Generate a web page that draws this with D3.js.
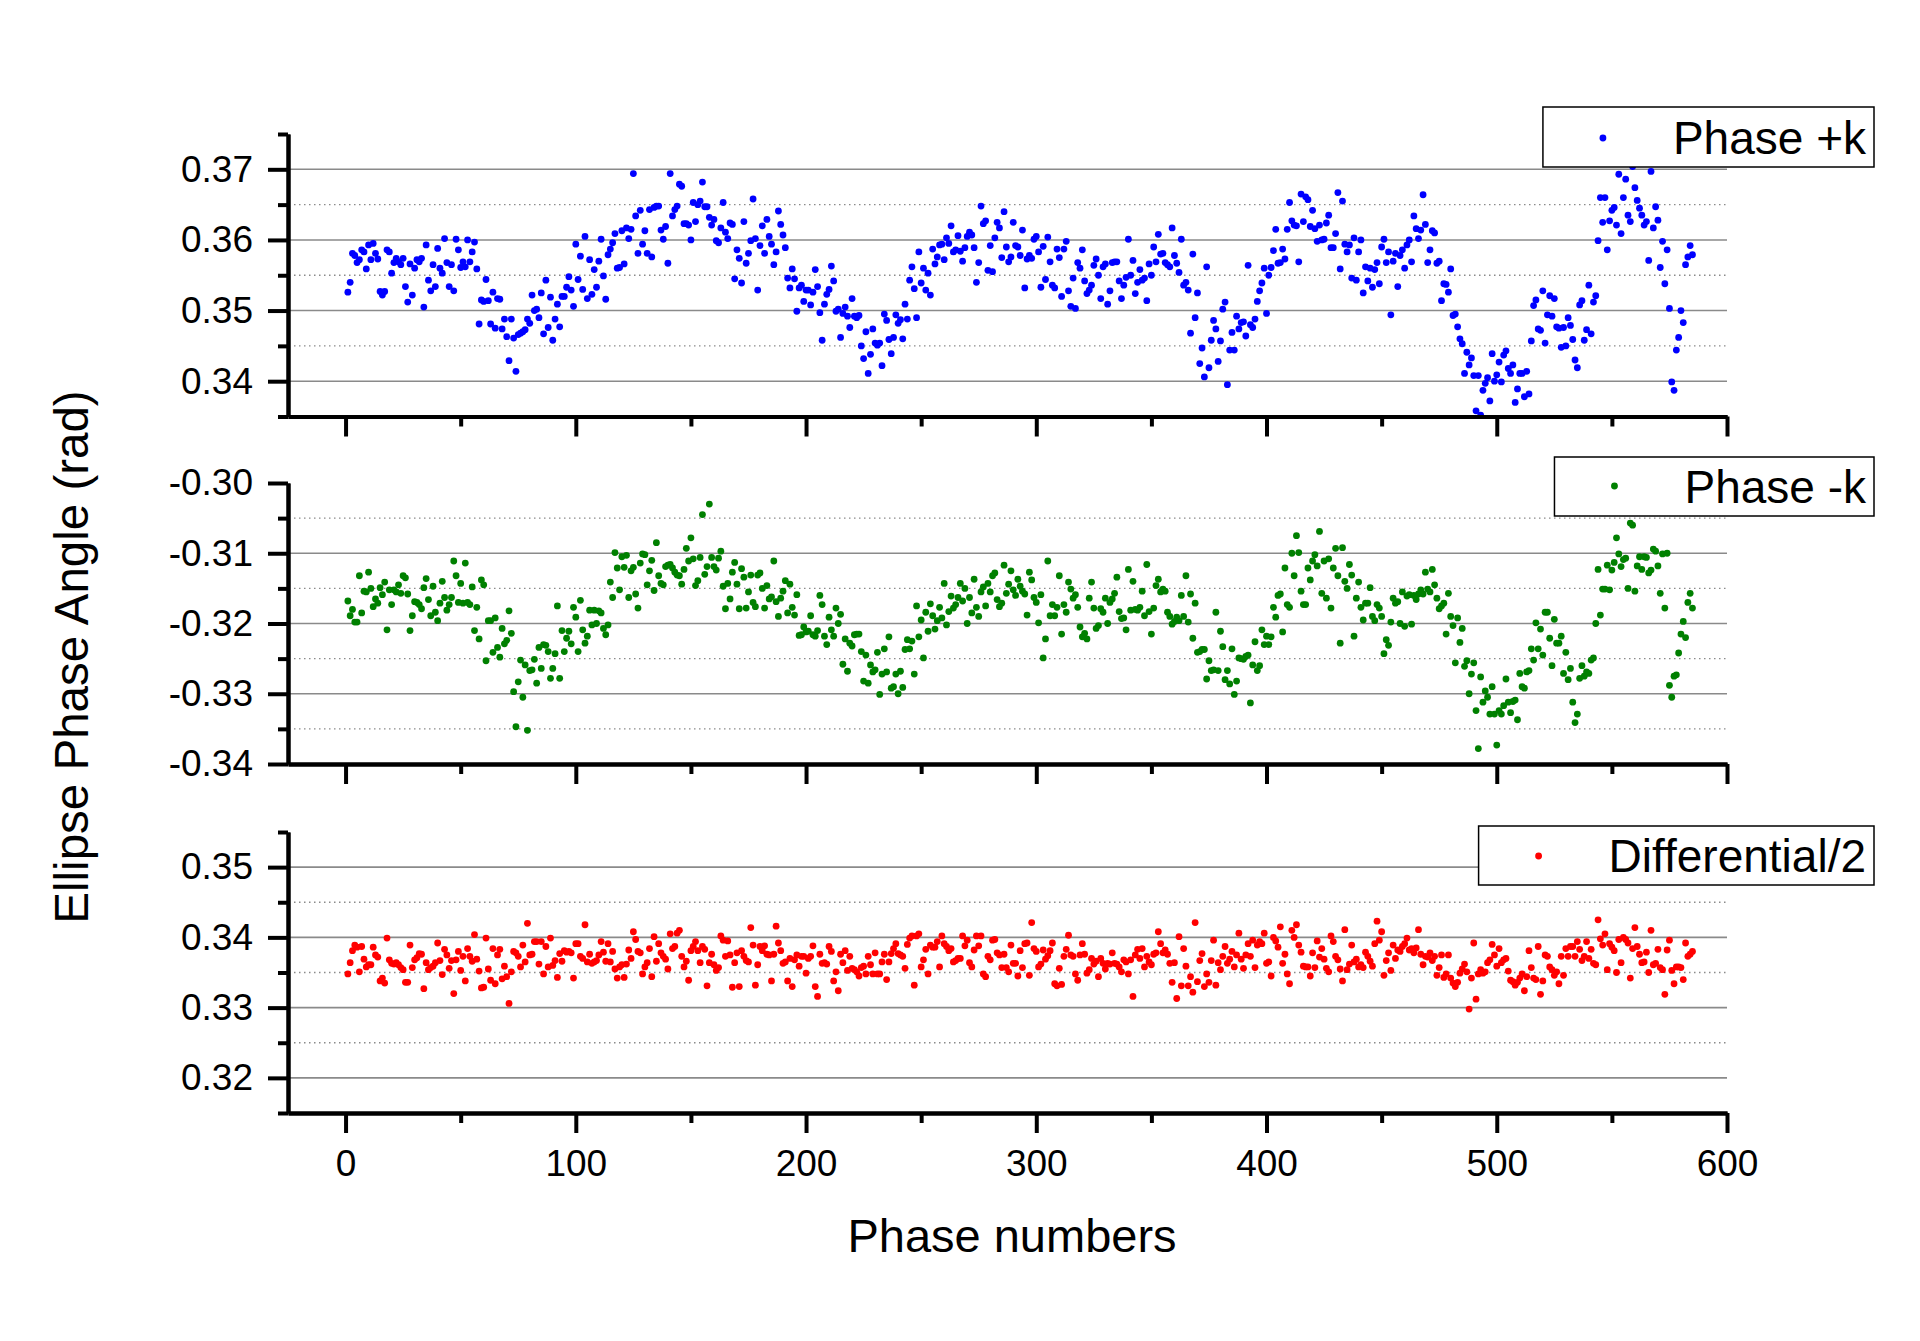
<!DOCTYPE html>
<html>
<head>
<meta charset="utf-8">
<script src="https://cdn.jsdelivr.net/npm/d3@7"></script>
<style>
  body { margin: 0; background: #fff; }
  svg text { font-family: "Liberation Sans", Arial, sans-serif; fill: #000; }
</style>
</head>
<body>
<div id="canvas"></div>
<script>
// phase numbers start at 1, one value per phase, values in mrad
const firstPhase = 1;

const phasePlus = [
  352.6,354.0,358.1,357.8,356.8,357.2,358.6,358.3,355.9,359.3,357.2,359.5,358.1,357.3,352.7,352.2,352.7,358.6,358.3,355.3,
  356.8,357.4,356.9,356.5,357.4,353.4,351.2,356.6,352.2,356.0,357.2,356.9,357.4,350.5,359.3,354.3,352.8,356.5,353.4,358.8,
  356.0,355.3,360.2,356.8,353.4,356.5,352.8,360.1,358.6,356.1,356.9,356.2,360.0,356.9,358.3,359.7,355.9,348.1,351.5,351.3,
  354.4,351.4,348.1,352.6,347.5,351.7,351.6,347.4,348.8,346.3,342.9,348.8,346.1,341.4,346.6,346.8,347.0,347.3,348.8,348.2,
  352.2,350.0,350.2,349.0,352.5,346.7,354.3,347.6,351.9,345.8,348.8,350.9,347.7,352.0,352.0,353.3,354.8,352.9,350.6,359.4,
  354.4,357.7,353.0,360.5,351.7,357.2,352.3,355.8,353.3,357.0,360.1,354.9,351.6,357.9,358.7,359.6,360.9,356.0,356.1,361.3,
  356.6,361.7,360.2,361.5,369.4,363.4,358.1,364.2,359.4,361.3,358.1,364.3,357.6,364.6,364.8,364.8,361.4,360.1,361.9,356.7,
  369.4,363.4,364.3,364.8,367.9,367.6,362.3,362.3,362.1,360.0,365.3,362.6,365.0,365.5,368.2,364.7,364.7,363.2,362.1,362.9,
  359.9,359.6,361.7,365.3,361.1,360.2,362.4,362.2,354.5,358.6,357.4,353.9,362.6,356.7,358.1,359.9,365.8,360.2,352.9,359.2,
  362.0,358.1,362.9,360.5,359.4,356.5,358.3,364.1,362.2,360.7,358.9,354.6,353.2,355.9,354.5,349.9,353.2,353.6,351.3,352.9,
  352.9,350.8,352.6,355.8,353.4,349.7,345.8,350.9,352.3,353.0,356.3,354.2,349.9,350.2,346.2,349.6,350.5,349.2,347.6,351.7,
  349.2,349.0,349.3,345.0,343.2,347.0,341.1,343.8,347.4,345.4,345.1,345.4,342.2,349.5,348.6,345.9,343.9,346.2,349.4,348.2,
  348.7,346.0,350.9,348.8,354.3,356.2,353.1,349.0,358.3,353.9,356.0,352.9,355.3,352.2,358.7,356.6,357.6,359.3,359.4,357.2,
  360.3,359.5,362.0,358.3,358.6,360.6,358.4,357.0,358.9,360.5,361.1,360.7,358.9,354.0,356.8,364.8,362.3,362.7,355.7,359.2,
  355.5,360.3,362.5,361.7,357.5,364.0,359.0,356.9,357.6,362.5,359.2,359.0,357.8,361.4,353.2,357.3,357.8,357.4,360.1,360.5,
  358.3,353.3,359.1,354.4,360.4,356.9,353.6,353.2,358.7,357.5,352.0,358.7,359.8,352.8,350.6,354.6,350.3,356.8,356.0,358.6,
  354.2,352.4,352.9,353.6,356.4,357.3,355.0,351.7,356.2,356.6,350.9,352.8,356.8,356.9,356.9,354.2,351.7,353.6,354.7,360.1,
  355.0,357.1,352.4,354.0,355.8,354.3,354.6,351.4,356.6,355.0,359.0,356.9,360.8,358.0,358.1,356.8,356.5,356.2,361.7,357.8,
  356.7,355.4,360.1,353.6,354.0,352.9,346.8,358.0,349.0,352.5,342.5,344.7,340.6,356.2,341.9,345.8,348.6,347.4,342.8,345.7,
  350.2,351.2,339.5,344.4,346.9,344.4,349.2,347.4,348.3,348.4,346.4,356.4,348.0,347.6,348.8,351.3,352.8,353.9,356.0,349.6,
  355.0,356.1,358.5,361.5,356.7,356.8,358.7,357.3,361.5,365.3,362.7,362.1,362.0,356.9,366.5,362.6,366.1,365.7,361.9,364.2,
  361.6,359.8,362.1,360.0,360.1,362.4,363.5,358.9,358.9,360.9,366.7,355.9,365.5,359.4,358.3,359.3,354.6,360.3,354.3,358.3,
  360.0,352.5,356.2,354.2,356.0,353.3,355.8,356.8,353.8,359.0,360.1,356.8,358.3,349.4,357.0,358.1,353.4,357.8,358.6,356.0,
  359.3,360.0,356.9,363.4,361.6,360.2,361.4,366.4,362.2,356.8,358.6,361.3,361.0,356.7,357.0,351.4,353.8,353.7,352.6,355.9,
  349.3,349.5,347.7,346.0,345.3,341.1,344.1,342.3,343.3,340.8,335.8,340.8,335.2,338.7,339.7,340.5,337.2,343.9,340.0,340.9,
  342.7,339.9,343.7,344.3,341.8,341.1,342.3,337.0,338.9,341.1,341.1,337.8,341.4,338.2,345.7,350.7,351.5,347.4,347.2,352.8,
  345.4,349.4,352.1,349.2,351.7,347.7,347.5,344.8,347.6,345.0,349.0,347.9,345.9,343.0,341.9,350.8,351.4,345.8,347.3,353.6,
  346.7,351.2,352.1,359.9,366.0,362.5,366.0,358.6,362.7,364.2,364.6,362.1,369.3,360.9,366.0,368.6,363.5,362.6,370.4,367.4,
  365.6,364.5,363.5,362.1,362.6,357.1,369.7,361.7,364.7,362.8,356.1,359.8,353.8,358.6,350.3,339.9,338.7,344.4,346.2,350.0,
  348.3,356.5,357.6,359.2,357.9
];

const phaseMinus = [
  -316.8,-318.9,-318.0,-319.8,-319.8,-313.2,-318.5,-315.4,-315.5,-312.7,-315.0,-317.6,-316.5,-317.1,-314.9,-315.9,-314.1,-320.9,-315.2,-317.3,
  -315.2,-315.5,-314.5,-315.7,-313.2,-313.5,-315.8,-321.0,-318.9,-316.9,-317.0,-317.3,-317.9,-314.9,-313.6,-316.6,-318.9,-314.7,-318.4,-319.6,
  -317.1,-314.0,-316.3,-318.1,-317.3,-316.3,-311.1,-313.2,-317.0,-314.3,-317.1,-311.4,-317.0,-317.3,-314.8,-321.0,-317.7,-322.2,-313.8,-314.5,
  -325.3,-319.6,-319.6,-324.1,-319.2,-323.4,-324.8,-320.7,-322.9,-322.4,-318.2,-321.4,-329.7,-334.7,-328.3,-325.2,-330.5,-325.9,-335.2,-326.7,
  -326.6,-325.1,-328.5,-323.4,-326.4,-323.0,-323.1,-324.0,-327.8,-326.4,-324.3,-317.5,-327.8,-321.0,-324.0,-322.1,-321.1,-322.9,-317.7,-319.1,
  -324.0,-316.7,-320.9,-322.8,-321.8,-318.1,-320.2,-318.1,-320.0,-318.2,-318.5,-320.7,-321.6,-320.2,-314.1,-316.3,-309.9,-312.1,-315.2,-310.5,
  -312.0,-310.3,-316.3,-312.5,-312.0,-315.8,-317.8,-311.4,-310.1,-310.2,-314.5,-312.5,-311.0,-315.3,-308.5,-313.2,-314.3,-314.5,-311.9,-311.7,
  -311.6,-312.1,-312.7,-313.1,-313.2,-314.4,-312.3,-309.3,-311.1,-307.8,-310.8,-314.6,-313.9,-310.6,-304.5,-313.0,-311.9,-303.0,-310.6,-311.9,
  -312.4,-310.7,-309.7,-314.7,-317.9,-314.3,-316.5,-312.7,-311.3,-314.4,-317.9,-312.2,-313.4,-317.8,-315.5,-313.1,-317.0,-317.6,-313.1,-312.8,
  -315.0,-317.8,-314.6,-316.5,-316.2,-311.1,-316.9,-319.0,-316.4,-315.4,-313.9,-318.5,-314.4,-317.7,-318.8,-315.9,-321.7,-321.6,-320.5,-321.2,
  -321.1,-318.9,-321.6,-321.8,-321.0,-316.0,-317.3,-321.8,-323.0,-319.1,-320.9,-321.8,-317.8,-320.0,-318.7,-325.8,-322.2,-326.8,-322.8,-323.2,
  -321.6,-321.5,-321.5,-324.0,-328.2,-324.5,-328.5,-325.9,-326.9,-326.6,-324.1,-330.1,-327.2,-323.6,-326.9,-321.9,-329.2,-329.0,-327.2,-330.0,
  -326.8,-329.1,-323.7,-322.3,-323.6,-322.5,-327.2,-317.5,-321.9,-319.5,-324.9,-318.4,-321.1,-317.2,-318.9,-320.8,-319.6,-317.7,-319.2,-314.3,
  -320.2,-318.3,-316.1,-317.8,-317.3,-316.3,-314.3,-316.8,-315.0,-320.0,-316.3,-318.5,-313.7,-317.7,-319.0,-315.5,-314.8,-317.5,-314.3,-315.5,
  -313.2,-312.8,-316.6,-317.6,-317.1,-311.7,-315.7,-314.4,-312.5,-315.2,-316.0,-313.7,-314.7,-315.4,-315.8,-318.8,-312.7,-313.8,-316.3,-317.0,
  -319.9,-315.9,-324.9,-322.2,-311.1,-318.9,-317.3,-318.9,-317.7,-313.2,-321.5,-317.3,-318.4,-314.1,-315.1,-316.4,-315.9,-317.7,-320.5,-321.9,
  -321.4,-322.2,-316.4,-314.1,-317.8,-320.7,-320.3,-317.9,-318.4,-316.4,-320.0,-317.0,-316.5,-315.7,-313.4,-318.3,-319.3,-319.2,-320.9,-312.3,
  -318.1,-314.0,-318.0,-318.1,-317.7,-315.4,-318.9,-311.6,-318.3,-321.5,-317.8,-314.6,-313.7,-315.5,-315.1,-315.4,-318.4,-319.0,-320.1,-319.7,
  -319.1,-319.6,-316.0,-319.0,-313.2,-319.8,-315.8,-322.1,-317.1,-324.1,-324.0,-323.7,-323.7,-327.9,-325.3,-326.7,-326.6,-318.4,-326.7,-321.1,
  -323.3,-328.0,-326.7,-328.6,-323.6,-330.1,-328.2,-324.9,-325.0,-325.1,-324.7,-324.5,-331.3,-325.9,-322.6,-326.7,-326.0,-320.9,-323.0,-321.8,
  -323.0,-321.9,-317.7,-319.1,-316.0,-315.8,-321.2,-312.1,-317.3,-317.7,-310.0,-313.2,-307.5,-309.9,-315.4,-317.3,-317.3,-312.1,-313.8,-311.1,
  -310.2,-311.8,-306.9,-315.7,-311.1,-316.4,-310.8,-317.8,-312.1,-309.3,-313.2,-322.8,-309.2,-314.0,-315.0,-311.6,-313.1,-321.8,-316.4,-314.1,
  -317.7,-319.5,-317.1,-317.1,-314.9,-319.0,-319.6,-317.3,-317.8,-319.0,-324.3,-322.3,-323.1,-319.8,-316.4,-317.1,-316.9,-320.0,-315.5,-320.4,
  -316.1,-315.9,-320.1,-316.0,-316.6,-315.8,-315.2,-315.8,-312.7,-315.1,-315.5,-312.3,-314.5,-316.4,-317.9,-317.5,-317.1,-321.5,-315.7,-319.0,
  -320.3,-325.6,-319.2,-322.7,-320.7,-326.1,-325.3,-330.0,-327.2,-325.6,-332.4,-337.8,-327.6,-331.2,-329.6,-330.5,-332.9,-329.0,-332.9,-337.3,
  -332.4,-332.9,-331.7,-327.9,-331.2,-332.7,-331.1,-330.9,-333.7,-327.1,-329.0,-329.2,-326.9,-326.7,-323.6,-325.2,-319.9,-323.6,-320.8,-324.5,
  -318.4,-318.4,-322.1,-326.0,-319.4,-322.8,-322.8,-321.8,-327.1,-324.1,-328.0,-326.4,-331.2,-334.1,-332.9,-327.8,-326.0,-327.5,-326.9,-327.1,
  -325.2,-324.9,-320.0,-312.3,-318.8,-315.1,-315.1,-311.7,-315.2,-312.4,-311.3,-307.8,-310.1,-311.9,-310.9,-310.7,-315.0,-305.7,-306.0,-315.4,
  -311.8,-310.5,-312.3,-310.5,-310.6,-312.8,-312.4,-309.4,-309.7,-311.8,-315.7,-310.1,-317.8,-310.0,-328.8,-330.5,-327.5,-327.3,-324.2,-321.5,
  -319.7,-322.0,-317.0,-315.7,-317.8
];

const differentialHalf = [
  334.8,336.4,338.1,338.9,338.6,335.1,338.7,336.9,335.8,336.1,336.1,338.6,337.5,337.2,333.8,334.2,333.5,339.9,336.8,336.3,
  336.2,336.4,336.1,335.7,335.4,333.6,333.6,338.9,335.7,336.8,337.1,337.7,337.6,332.7,336.4,335.4,335.7,335.9,336.4,339.2,
  336.7,334.7,338.3,337.5,335.6,336.7,332.0,336.8,338.0,335.3,337.3,333.8,338.4,337.3,336.6,340.4,336.9,335.2,332.8,332.9,
  339.9,335.5,333.9,338.4,333.4,337.5,338.3,334.1,335.9,334.4,330.6,335.1,338.0,337.8,337.3,335.8,338.9,336.5,342.0,337.5,
  337.6,339.4,339.4,336.2,339.4,334.8,338.7,335.8,339.9,336.0,336.7,334.3,337.7,336.6,338.1,337.9,338.0,337.8,334.2,339.1,
  339.1,337.3,337.0,341.8,336.5,337.6,336.3,336.5,336.7,337.5,339.4,337.9,336.6,339.1,336.5,338.0,335.5,334.2,335.8,336.1,
  334.3,336.2,338.2,337.0,340.8,339.7,338.0,337.8,334.8,335.8,336.4,338.4,334.4,340.1,336.6,339.1,337.8,337.3,336.9,335.5,
  340.5,338.4,338.7,340.6,341.0,337.3,335.8,336.6,333.9,338.1,338.7,339.4,338.1,336.4,338.7,338.3,333.1,336.4,337.6,336.1,
  335.3,335.7,340.2,339.6,337.3,339.5,337.5,332.9,336.4,337.8,333.0,338.1,337.3,336.7,336.5,341.4,338.9,333.2,336.1,338.7,
  338.1,338.8,337.6,337.5,333.8,337.6,341.6,339.2,338.1,336.3,336.5,333.8,337.0,333.0,336.8,337.5,335.9,337.3,337.3,334.9,
  337.0,337.3,338.8,333.0,331.6,337.6,336.3,336.4,336.2,338.7,338.0,333.8,335.1,332.4,337.6,336.4,338.1,335.3,337.3,335.6,
  335.4,335.1,334.5,335.7,335.9,334.8,337.3,336.1,334.8,337.8,334.8,334.8,336.5,337.6,334.0,336.5,337.7,338.4,339.1,337.7,
  337.5,337.3,335.6,339.0,339.9,340.2,333.2,340.2,340.5,335.8,336.8,338.3,334.8,338.9,338.6,338.6,339.4,335.8,340.2,339.1,
  338.7,338.1,338.4,336.5,336.7,337.0,337.0,340.2,338.8,339.6,336.4,335.8,338.2,340.2,338.8,340.2,334.8,334.4,337.3,336.8,
  339.6,339.7,337.8,337.5,335.7,
  337.6,335.7,335.1,338.9,336.3,336.3,334.5,338.1,335.7,339.1,339.2,334.6,342.1,338.4,338.0,335.8,336.2,338.2,336.9,337.4,
  338.1,339.2,333.4,333.1,335.6,333.3,337.3,338.3,340.3,337.5,337.3,334.8,333.9,337.5,339.1,337.6,334.9,335.4,337.0,336.2,
  336.6,334.4,337.0,336.3,335.5,336.3,336.2,337.8,336.3,336.2,335.8,335.1,336.8,336.5,334.8,336.8,331.6,337.5,338.3,337.0,
  338.4,335.8,337.3,336.5,336.1,337.6,337.8,340.8,339.1,337.8,338.2,337.6,336.3,333.6,336.4,331.3,340.1,333.1,338.4,335.9,
  333.1,334.4,332.2,342.1,333.7,336.7,337.7,333.0,334.8,333.6,336.7,339.6,333.2,336.4,335.4,337.3,338.7,336.3,336.9,338.0,
  335.8,337.5,340.6,336.9,335.6,337.5,339.1,337.3,339.6,335.7,338.9,339.4,339.1,340.6,336.3,336.5,334.5,340.0,339.5,338.6,
  341.5,336.3,337.6,334.8,333.4,341.0,340.0,341.8,338.9,337.9,335.9,335.8,335.8,334.5,337.8,335.7,339.5,337.2,338.4,336.9,
  335.6,335.1,340.2,339.4,337.3,336.8,335.5,333.8,341.1,335.4,336.2,338.9,336.5,336.9,335.8,336.1,335.7,337.9,337.3,336.6,
  335.9,339.1,342.3,339.6,340.8,334.6,336.7,337.8,335.3,338.9,337.0,338.2,338.0,338.7,339.1,339.9,338.2,338.4,337.8,338.5,
  341.1,337.6,336.1,337.3,337.2,337.8,336.7,337.3,334.6,335.7,337.5,334.3,334.8,337.5,334.2,333.5,333.0,333.6,334.9,335.5,
  336.2,335.1,329.8,334.2,339.2,331.2,334.8,335.4,334.9,335.1,336.4,336.8,339.0,337.5,335.9,338.4,336.4,336.8,337.0,335.2,
  333.9,333.7,333.2,333.6,334.2,334.8,332.4,334.4,338.1,335.7,334.2,334.0,338.7,331.9,333.8,337.5,337.3,335.8,335.4,334.6,
  335.1,333.4,337.3,334.6,338.4,337.3,338.7,338.7,337.3,339.4,338.3,336.7,337.3,339.4,337.0,338.3,336.3,336.1,342.5,339.8,
  338.9,340.5,335.4,339.1,338.6,338.1,335.0,339.7,336.4,340.0,339.7,339.2,334.2,338.4,341.4,338.7,337.6,336.4,336.5,337.9,
  335.0,341.0,336.1,336.3,338.3,335.7,335.4,331.9,338.2,339.6,335.3,333.4,335.8,335.8,335.7,334.0,339.2,337.3,337.6,338.0
];

const xTicks = [0, 100, 200, 300, 400, 500, 600];
const xMinorTicks = [50, 150, 250, 350, 450, 550];
const plusTicks = [0.34, 0.35, 0.36, 0.37];
const plusMinor = [0.335, 0.345, 0.355, 0.365, 0.375];
const minusTicks = [-0.34, -0.33, -0.32, -0.31, -0.30];
const minusMinor = [-0.335, -0.325, -0.315, -0.305];
const diffTicks = [0.32, 0.33, 0.34, 0.35];
const diffMinor = [0.315, 0.325, 0.335, 0.345, 0.355];

const width = 1920;
const height = 1341;
const left = 288, right = 1727;

const svg = d3.select("#canvas").append("svg")
  .attr("width", width)
  .attr("height", height);
svg.append("rect").attr("width", width).attr("height", height).attr("fill", "#fff");

const x = d3.scaleLinear().domain([-25, 600]).range([left, right]);

const panels = [
  { values: phasePlus, color: "#0000ff", domain: [0.335, 0.375], ticks: plusTicks, minor: plusMinor,
    top: 134, bottom: 416.5, label: "Phase +k", box: [107, 167], base: 154, my: 138 },
  { values: phaseMinus, color: "#008000", domain: [-0.34, -0.30], ticks: minusTicks, minor: minusMinor,
    top: 483, bottom: 764, label: "Phase -k", box: [457, 516], base: 503, my: 486 },
  { values: differentialHalf, color: "#ff0000", domain: [0.315, 0.355], ticks: diffTicks, minor: diffMinor,
    top: 832, bottom: 1113, label: "Differential/2", box: [826, 885], base: 872, my: 856 }
];

function styleAxis(sel, labels) {
  sel.select(".domain").attr("stroke", "#000").attr("stroke-width", 4);
  sel.selectAll(".tick line").attr("stroke", "#000").attr("stroke-width", 4);
  if (labels) sel.selectAll(".tick text").style("font-size", "37px");
  else sel.selectAll(".tick text").remove();
}

panels.forEach((p, k) => {
  const y = d3.scaleLinear().domain(p.domain).range([p.bottom, p.top]);
  const g = svg.append("g");
  const inside = v => v > p.domain[0] + 1e-9 && v < p.domain[1] - 1e-9;

  // grid
  g.selectAll(".grid-major").data(p.ticks.filter(inside)).enter().append("line")
    .attr("x1", left).attr("x2", right)
    .attr("y1", d => y(d)).attr("y2", d => y(d))
    .attr("stroke", "#8a8a8a").attr("stroke-width", 1.6);
  g.selectAll(".grid-minor").data(p.minor.filter(inside)).enter().append("line")
    .attr("x1", left + 6).attr("x2", right)
    .attr("y1", d => y(d)).attr("y2", d => y(d))
    .attr("stroke", "#8a8a8a").attr("stroke-width", 1.4)
    .attr("stroke-dasharray", "1.5,3.5");

  // points
  g.append("g").selectAll("circle").data(p.values).enter().append("circle")
    .attr("cx", (d, i) => x(i + firstPhase))
    .attr("cy", d => y(d / 1000))
    .attr("r", 3.4)
    .attr("fill", p.color);

  // y axis
  g.append("g").attr("transform", `translate(${left},0)`)
    .call(d3.axisLeft(y).tickValues(p.minor).tickSize(10).tickSizeOuter(0))
    .call(s => styleAxis(s, false));
  g.append("g").attr("transform", `translate(${left},0)`)
    .call(d3.axisLeft(y).tickValues(p.ticks).tickSize(20).tickSizeOuter(0).tickPadding(15)
      .tickFormat(d => d.toFixed(2)))
    .call(s => styleAxis(s, true));

  // x axis
  const isLast = k === panels.length - 1;
  g.append("g").attr("transform", `translate(0,${p.bottom})`)
    .call(d3.axisBottom(x).tickValues(xMinorTicks).tickSize(10).tickSizeOuter(0))
    .call(s => styleAxis(s, false));
  g.append("g").attr("transform", `translate(0,${p.bottom})`)
    .call(d3.axisBottom(x).tickValues(xTicks).tickSize(20).tickSizeOuter(0).tickPadding(17))
    .call(s => styleAxis(s, isLast));

  // legend
  const lg = svg.append("g");
  const box = lg.append("rect");
  const txt = lg.append("text")
    .attr("x", 1866).attr("y", p.base)
    .attr("text-anchor", "end")
    .style("font-size", "46px")
    .text(p.label);
  const boxLeft = 1866 - txt.node().getComputedTextLength() - 130;
  box.attr("x", boxLeft).attr("y", p.box[0])
    .attr("width", 1874 - boxLeft).attr("height", p.box[1] - p.box[0])
    .attr("fill", "#fff").attr("stroke", "#000").attr("stroke-width", 1.5);
  lg.append("circle").attr("cx", boxLeft + 60).attr("cy", p.my).attr("r", 3.4).attr("fill", p.color);
});

// axis titles
svg.append("text")
  .attr("x", 1012).attr("y", 1252)
  .attr("text-anchor", "middle")
  .style("font-size", "47px")
  .text("Phase numbers");

svg.append("text")
  .attr("transform", "translate(88,657) rotate(-90)")
  .attr("text-anchor", "middle")
  .style("font-size", "47.5px")
  .text("Ellipse Phase Angle (rad)");
</script>
</body>
</html>
